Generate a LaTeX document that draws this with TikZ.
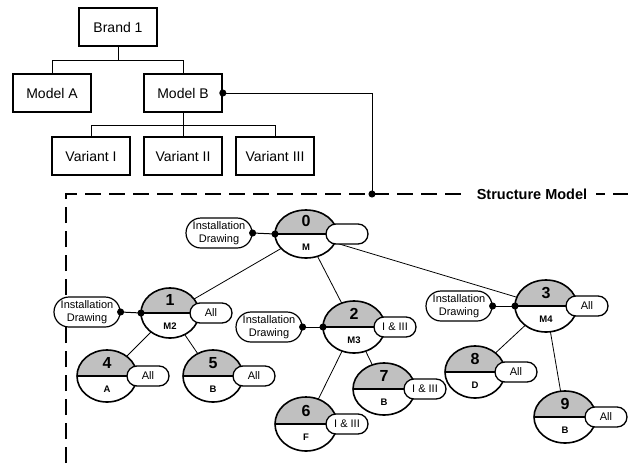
\documentclass[tikz,border=0pt]{standalone}
\usepackage{fontspec}
\setmainfont{Liberation Sans}
\usetikzlibrary{shapes.geometric,shapes.misc,arrows.meta,backgrounds}
\definecolor{partgray}{RGB}{192,192,192}
\tikzset{
  hbox/.style={draw, line width=1.6pt, minimum width=78pt, minimum height=38pt,
    inner sep=0pt, font=\fontsize{14}{16}\selectfont},
  tree/.style={line width=1pt},
  link/.style={line width=1pt, {Circle[length=7pt]}-{Circle[length=7pt]},
    shorten <=-3.5pt, shorten >=-3.5pt},
  frame/.style={line width=1.5pt, dash pattern=on 16pt off 8pt},
  smlabel/.style={fill=white, inner xsep=9pt, inner ysep=2pt,
    font=\bfseries\fontsize{14.5}{16}\selectfont},
  partshape/.style={ellipse, fill=white, draw=none, inner sep=0pt, outer sep=0pt},
  partline/.style={line width=1.6pt},
  edge/.style={line width=0.8pt},
  numtext/.style={font=\bfseries\fontsize{16}{18}\selectfont, inner sep=0pt},
  labtext/.style={font=\bfseries\fontsize{9.5}{11}\selectfont, inner sep=0pt},
  tag/.style={rounded rectangle, draw, fill=white, line width=1.3pt,
    minimum width=42pt, minimum height=20pt, inner sep=0pt,
    font=\fontsize{11}{12}\selectfont},
  install/.style={rounded rectangle, draw, fill=white, line width=1.2pt,
    minimum width=66pt, minimum height=30pt, inner sep=0pt, align=center,
    font=\fontsize{11}{13}\selectfont},
}
% part node: name, x, y, x radius, y radius, number, label, tag text
\newcommand\partnode[8]{%
  \node[partshape, minimum width=2*#4pt, minimum height=2*#5pt] (#1) at (#2,#3) {};
  \fill[partgray] (#1.east) arc[start angle=0, end angle=180, x radius=#4pt, y radius=#5pt] -- cycle;
  \draw[partline] (#1.center) ellipse[x radius=#4pt, y radius=#5pt];
  \draw[partline] (#1.west) -- (#1.east);
  \node[numtext] (#1n) at ([yshift=13pt]#1.center) {#6};
  \node[labtext] (#1l) at ([yshift=-13pt]#1.center) {#7};
  \node[tag] (#1t) at ([xshift=41pt]#1.center) {#8};
}
\begin{document}
\begin{tikzpicture}[x=1pt, y=1pt]
\useasboundingbox (0,0) rectangle (628,-463);

% product hierarchy
\node[hbox] (brand) at (118,-27) {Brand 1};
\node[hbox] (modelA) at (52,-93) {Model A};
\node[hbox] (modelB) at (183,-93) {Model B};
\node[hbox] (varI) at (91,-156) {Variant I};
\node[hbox] (varII) at (183,-156) {Variant II};
\node[hbox] (varIII) at (275,-156) {Variant III};

\draw[tree] (brand.south) -- ++(0,-14) -| (modelA.north);
\draw[tree] (brand.south) -- ++(0,-14) -| (modelB.north);
\draw[tree] (modelB.south) -- ++(0,-13) -| (varI.north);
\draw[tree] (modelB.south) -- (varII.north);
\draw[tree] (modelB.south) -- ++(0,-13) -| (varIII.north);

% structure model frame
\coordinate (smcorner) at (372,-194);
\draw[frame] (66,-463) -- (66,-194) -- (628,-194);
\node[smlabel] (sm) at (532,-194) {Structure Model};
\draw[link] (modelB.east) -| (smcorner);

% structure tree
\partnode{n0}{306}{-234}{31}{24}{0}{M}{}
\partnode{n1}{170}{-313}{29}{25}{1}{M2}{All}
\partnode{n2}{354}{-327}{31}{26}{2}{M3}{I \& III}
\partnode{n3}{546}{-306}{31}{26}{3}{M4}{All}
\partnode{n4}{107}{-376}{30}{26}{4}{A}{All}
\partnode{n5}{213}{-376}{30}{26}{5}{B}{All}
\partnode{n6}{306}{-424}{31}{27}{6}{F}{I \& III}
\partnode{n7}{384}{-389}{31}{26}{7}{B}{I \& III}
\partnode{n8}{475}{-372}{30}{26}{8}{D}{All}
\partnode{n9}{565}{-417}{31}{26}{9}{B}{All}

\begin{pgfonlayer}{background}
  \draw[edge] (n0.center) -- (n1.center);
  \draw[edge] (n0.center) -- (n2.center);
  \draw[edge] (n0.center) -- (n3.center);
  \draw[edge] (n1.center) -- (n4.center);
  \draw[edge] (n1.center) -- (n5.center);
  \draw[edge] (n2.center) -- (n6.center);
  \draw[edge] (n2.center) -- (n7.center);
  \draw[edge] (n3.center) -- (n8.center);
  \draw[edge] (n3.center) -- (n9.center);
\end{pgfonlayer}

% installation drawings
\node[install] (i0) at (219,-233) {Installation\\Drawing};
\node[install] (i1) at (87,-312) {Installation\\Drawing};
\node[install] (i2) at (269,-327) {Installation\\Drawing};
\node[install] (i3) at (459,-306) {Installation\\Drawing};
\draw[link] (i0.east) -- (n0.west);
\draw[link] (i1.east) -- (n1.west);
\draw[link] (i2.east) -- (n2.west);
\draw[link] (i3.east) -- (n3.west);
\end{tikzpicture}
\end{document}
